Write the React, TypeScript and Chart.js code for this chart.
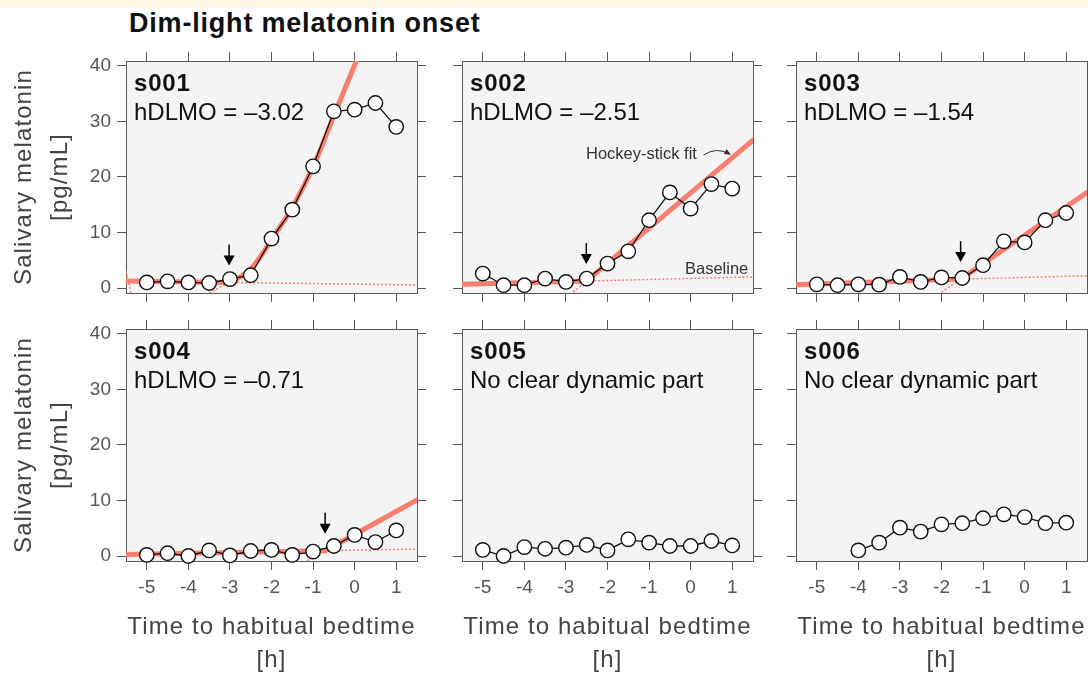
import React, { useEffect, useRef } from "react";
import { Chart, registerables } from "chart.js";

Chart.register(...registerables);

// ---------------- data ----------------
const SUBJECTS = ["s001", "s002", "s003", "s004", "s005", "s006"];
const TIMES = [-5, -4.5, -4, -3.5, -3, -2.5, -2, -1.5, -1, -0.5, 0, 0.5, 1];
const TIMES_S006 = [-4, -3.5, -3, -2.5, -2, -1.5, -1, -0.5, 0, 0.5, 1];
const X_TICKS = [-5, -4, -3, -2, -1, 0, 1];
const Y_TICKS = [0, 10, 20, 30, 40];
const X_MIN = -5.5;
const X_MAX = 1.5;
const Y_MIN = -0.9;
const Y_MAX = 40.86;

const S001 = [1.0, 1.2, 1.0, 0.9, 1.6, 2.3, 8.9, 14.1, 21.9, 31.8, 32.1, 33.3, 29.0];
const S002 = [2.6, 0.5, 0.5, 1.7, 1.1, 1.7, 4.4, 6.6, 12.2, 17.2, 14.3, 18.7, 17.9];
const S003 = [0.66, 0.5, 0.66, 0.6, 2.0, 1.1, 1.9, 1.8, 4.1, 8.4, 8.2, 12.2, 13.5];
const S004 = [0.2, 0.5, 0.0, 1.0, 0.1, 0.9, 1.1, 0.2, 0.8, 1.8, 3.8, 2.5, 4.6];
const S005 = [1.1, 0.0, 1.6, 1.3, 1.5, 2.0, 1.0, 3.0, 2.4, 1.8, 1.8, 2.7, 1.9];
const S006 = [1.0, 2.4, 5.1, 4.4, 5.7, 5.9, 6.8, 7.5, 7.0, 5.9, 6.0];
const VALUES = [S001, S002, S003, S004, S005, S006];

const HDLMO: (number | null)[] = [-3.02, -2.51, -1.54, -0.71, null, null];
const NOTES = ["hDLMO = –3.02", "hDLMO = –2.51", "hDLMO = –1.54", "hDLMO = –0.71", "No clear dynamic part", "No clear dynamic part"];

// hockey-stick fit (thick) : baseline part and rising part
const FIT_BASE_X = [[-5.5, -3.02], [-5.5, -2.51], [-5.5, -1.54], [-5.5, -0.71]];
const FIT_BASE_Y = [[1.25, 1.0], [0.66, 1.25], [0.6, 1.6], [0.25, 0.95]];
const FIT_RISE_X = [[-3.02, -2.75, -2.5, -2.25, -2.0, -1.5, -1.0, -0.5, 0.04], [-2.51, 1.5], [-1.54, 1.5], [-0.71, 1.5]];
const FIT_RISE_Y = [[1.0, 2.0, 3.4, 5.8, 8.7, 14.5, 21.8, 31.0, 40.86], [1.25, 26.6], [1.6, 17.2], [0.95, 10.1]];
// dotted continuations
const BASE_EXT_X = [[-3.02, 1.5], [-2.51, 1.5], [-1.54, 1.5], [-0.71, 1.5]];
const BASE_EXT_Y = [[1.0, 0.55], [1.25, 2.0], [1.6, 2.2], [0.95, 1.25]];
const RISE_EXT_X = [[-5.5, -5.36, -3.62, -3.5, -3.02], [-2.9, -2.51], [-2.08, -1.54], [-1.22, -0.71]];
const RISE_EXT_Y = [[3.0, -1.5, -1.5, -0.9, 1.0], [-1.2, 1.25], [-1.2, 1.6], [-1.2, 0.95]];

// ---------------- style / layout ----------------
const FONT = "'Liberation Sans', Arial, Helvetica, sans-serif";
const SALMON = "#f97e6f";
const AXIS = "#585858";
const TICK_TXT = "#555";
const TITLE_TXT = "#444";
const PANEL_BG = "#f4f4f4";
const COL_LEFT = [126, 462, 796];
const ROW_TOP = [61, 329];
const PW = 291;
const PH = 232;
const ML = 60, MR = 20, MT = 20, MB = 50;
const CW = ML + PW + MR;
const CH = MT + PH + MB;

const pts = (xs: number[], ys: number[]) => xs.map((x, k) => ({ x, y: ys[k] }));

const bgPlugin = {
  id: "panelBg",
  beforeDraw(chart: any) {
    const { ctx, chartArea } = chart;
    ctx.save();
    ctx.fillStyle = PANEL_BG;
    ctx.fillRect(chartArea.left, chartArea.top, chartArea.right - chartArea.left, chartArea.bottom - chartArea.top);
    ctx.restore();
  },
};

function annotPlugin(i: number) {
  return {
    id: "annot" + i,
    afterDatasetsDraw(chart: any) {
      const ctx = chart.ctx;
      const h = HDLMO[i];
      if (h != null) {
        const x = chart.scales.x.getPixelForValue(h);
        const tip = chart.scales.y.getPixelForValue(FIT_BASE_Y[i][1]) - 17;
        ctx.save();
        ctx.strokeStyle = "#000";
        ctx.lineWidth = 1.5;
        ctx.beginPath();
        ctx.moveTo(x, tip - 21);
        ctx.lineTo(x, tip - 8);
        ctx.stroke();
        ctx.fillStyle = "#000";
        ctx.beginPath();
        ctx.moveTo(x - 5.5, tip - 10);
        ctx.lineTo(x + 5.5, tip - 10);
        ctx.lineTo(x, tip);
        ctx.closePath();
        ctx.fill();
        ctx.restore();
      }
      if (i === 1) {
        const a = chart.chartArea;
        const x0 = a.left + 241.5, y0 = a.top + 94;
        const cx = a.left + 254.5, cy = a.top + 85.5;
        const x1 = a.left + 267.5, y1 = a.top + 93;
        ctx.save();
        ctx.strokeStyle = "#333";
        ctx.fillStyle = "#333";
        ctx.lineWidth = 1;
        ctx.beginPath();
        ctx.moveTo(x0, y0);
        ctx.quadraticCurveTo(cx, cy, x1, y1);
        ctx.stroke();
        const ang = Math.atan2(y1 - cy, x1 - cx);
        ctx.beginPath();
        ctx.moveTo(x1 + 1.5 * Math.cos(ang), y1 + 1.5 * Math.sin(ang));
        ctx.lineTo(x1 - 5 * Math.cos(ang) + 2.8 * Math.sin(ang), y1 - 5 * Math.sin(ang) - 2.8 * Math.cos(ang));
        ctx.lineTo(x1 - 5 * Math.cos(ang) - 2.8 * Math.sin(ang), y1 - 5 * Math.sin(ang) + 2.8 * Math.cos(ang));
        ctx.closePath();
        ctx.fill();
        ctx.restore();
      }
    },
  };
}

function makeConfig(i: number, showX: boolean, showY: boolean): any {
  const times = i === 5 ? TIMES_S006 : TIMES;
  const datasets: any[] = [
    {
      data: pts(times, VALUES[i]),
      borderColor: "#111",
      borderWidth: 1.3,
      pointRadius: 7.2,
      pointBorderWidth: 1.4,
      pointBackgroundColor: "#fff",
      pointBorderColor: "#111",
      tension: 0,
      clip: false,
      order: 0,
    },
  ];
  if (i < 4) {
    const dotted = { borderColor: SALMON, borderWidth: 1.5, borderDash: [2, 2], pointRadius: 0, clip: 0, order: 1, tension: 0 };
    const thick = { borderColor: SALMON, borderWidth: 5, pointRadius: 0, clip: 0, order: 2, borderCapStyle: "round", borderJoinStyle: "round" };
    datasets.push({ ...dotted, data: pts(BASE_EXT_X[i], BASE_EXT_Y[i]) });
    datasets.push({ ...dotted, data: pts(RISE_EXT_X[i], RISE_EXT_Y[i]) });
    datasets.push({ ...thick, tension: 0, data: pts(FIT_BASE_X[i], FIT_BASE_Y[i]) });
    datasets.push({ ...thick, cubicInterpolationMode: "monotone", data: pts(FIT_RISE_X[i], FIT_RISE_Y[i]) });
  }
  const grid = { display: true, drawOnChartArea: false, drawTicks: true, tickLength: 9, color: AXIS, lineWidth: 1 };
  const border = { display: true, color: AXIS, width: 1 };
  const tickFont = { family: FONT, size: 19 };
  const xTicks = (s: any) => { s.ticks = X_TICKS.map((v) => ({ value: v })); };
  const yTicks = (s: any) => { s.ticks = Y_TICKS.map((v) => ({ value: v })); };
  return {
    type: "line",
    data: { datasets },
    plugins: [bgPlugin, annotPlugin(i)],
    options: {
      animation: false,
      responsive: false,
      devicePixelRatio: 1,
      events: [],
      layout: { padding: 0 },
      plugins: { legend: { display: false }, tooltip: { enabled: false }, title: { display: false } },
      scales: {
        x: {
          type: "linear", position: "bottom", min: X_MIN, max: X_MAX,
          afterBuildTicks: xTicks, afterFit: (s: any) => { s.height = MB; },
          grid, border,
          ticks: { display: showX, font: tickFont, color: TICK_TXT, padding: 6, maxRotation: 0, autoSkip: false, callback: (v: any) => String(v) },
        },
        x2: {
          type: "linear", position: "top", min: X_MIN, max: X_MAX,
          afterBuildTicks: xTicks, afterFit: (s: any) => { s.height = MT; },
          grid, border, ticks: { display: false },
        },
        y: {
          type: "linear", position: "left", min: Y_MIN, max: Y_MAX,
          afterBuildTicks: yTicks, afterFit: (s: any) => { s.width = ML; },
          grid, border,
          ticks: { display: showY, font: tickFont, color: TICK_TXT, padding: 6, autoSkip: false, callback: (v: any) => String(v) },
        },
        y2: {
          type: "linear", position: "right", min: Y_MIN, max: Y_MAX,
          afterBuildTicks: yTicks, afterFit: (s: any) => { s.width = MR; },
          grid, border, ticks: { display: false },
        },
      },
    },
  };
}

function Panel({ i }: { i: number }) {
  const ref = useRef<HTMLCanvasElement>(null);
  const col = i % 3;
  const row = Math.floor(i / 3);
  useEffect(() => {
    const chart = new Chart(ref.current as HTMLCanvasElement, makeConfig(i, row === 1, col === 0));
    return () => chart.destroy();
  }, [i]);
  const L = COL_LEFT[col];
  const T = ROW_TOP[row];
  return (
    <>
      <canvas
        ref={ref}
        width={CW}
        height={CH}
        style={{ position: "absolute", left: L - ML, top: T - MT, width: CW, height: CH }}
      />
      <div style={{ position: "absolute", left: L + 8, top: T + 22 - 12, font: `bold 24px ${FONT}`, lineHeight: "24px", letterSpacing: "0.8px", color: "#111", whiteSpace: "nowrap" }}>
        {SUBJECTS[i]}
      </div>
      <div style={{ position: "absolute", left: L + 8, top: T + 51 - 12, font: `24px ${FONT}`, lineHeight: "24px", color: "#111", whiteSpace: "nowrap" }}>
        {NOTES[i]}
      </div>
    </>
  );
}

export default function App() {
  const axisTitle: React.CSSProperties = { font: `24px ${FONT}`, color: TITLE_TXT, letterSpacing: "1.1px", whiteSpace: "nowrap", textAlign: "center" };
  return (
    <div style={{ position: "fixed", left: 0, top: 0, width: 1088, height: 676, overflow: "hidden", background: "#fff" }}>
      <div style={{ position: "absolute", left: 0, top: 0, width: 1088, height: 8, background: "#fdf6e3" }} />
      <div style={{ position: "absolute", left: 129, top: 23 - 13.5, font: `bold 27px ${FONT}`, lineHeight: "27px", letterSpacing: "0.8px", color: "#111", whiteSpace: "nowrap" }}>
        Dim-light melatonin onset
      </div>
      {[0, 1, 2, 3, 4, 5].map((i) => <Panel key={i} i={i} />)}
      {ROW_TOP.map((T, r) => (
        <div key={"yt" + r} style={{ position: "absolute", left: 41 - 140, top: T + PH / 2 - 36, width: 280, height: 72, transform: "rotate(-90deg)", ...axisTitle, lineHeight: "36px" }}>
          <div>Salivary melatonin</div>
          <div>[pg/mL]</div>
        </div>
      ))}
      {COL_LEFT.map((L, c) => (
        <div key={"xt" + c} style={{ position: "absolute", left: L + PW / 2 - 180, top: 625 - 16.5, width: 360, ...axisTitle, lineHeight: "33px" }}>
          <div>Time to habitual bedtime</div>
          <div>[h]</div>
        </div>
      ))}
      <div style={{ position: "absolute", left: 586, top: 153 - 9, font: `16.5px ${FONT}`, lineHeight: "18px", color: "#333", whiteSpace: "nowrap" }}>
        Hockey-stick fit
      </div>
      <div style={{ position: "absolute", left: 685, top: 268 - 9, font: `16.5px ${FONT}`, lineHeight: "18px", color: "#333", whiteSpace: "nowrap" }}>
        Baseline
      </div>
    </div>
  );
}
